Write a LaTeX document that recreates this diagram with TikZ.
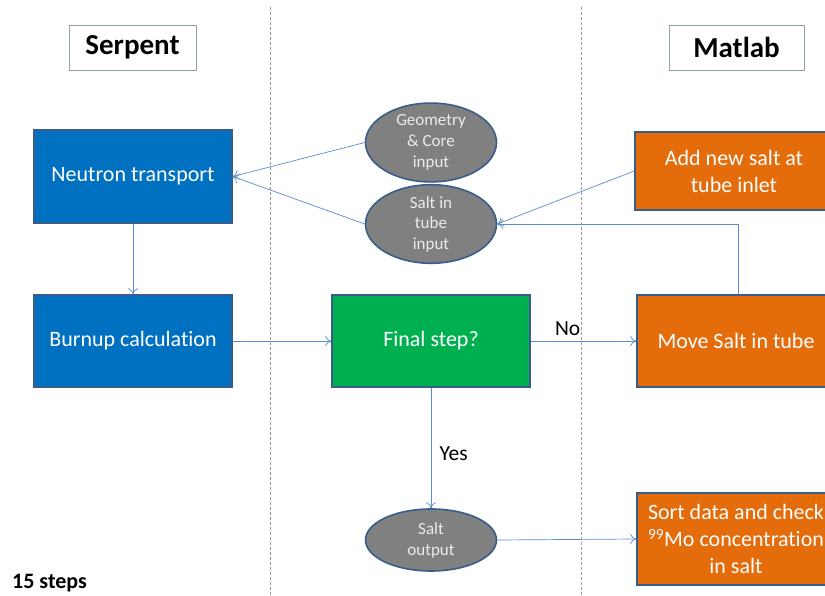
\documentclass[tikz,border=0pt]{standalone}
\usepackage{fontspec}
\setmainfont[Ligatures={NoCommon}]{Carlito}
\usetikzlibrary{arrows.meta,shapes.geometric}
\definecolor{bblue}{HTML}{0070C0}
\definecolor{bgreen}{HTML}{00B050}
\definecolor{borange}{HTML}{E46C0A}
\definecolor{bgrey}{HTML}{808080}
\definecolor{edge}{HTML}{385D8A}
\definecolor{conn}{HTML}{5B8BD0}
\tikzset{
  x=1pt,y=-1pt,
  procbox/.style={draw=edge,line width=1.6pt,minimum width=198pt,minimum height=92pt,text=white,font=\fontsize{22}{27}\selectfont,align=center,inner sep=2pt},
  ioell/.style={ellipse,draw=edge,line width=1.6pt,fill=bgrey,minimum width=131pt,minimum height=68pt,inner sep=0pt,text=white!92!black,font=\fontsize{17}{20.5}\selectfont,align=center},
  headbox/.style={draw=edge!60,line width=0.8pt,font=\bfseries\fontsize{29}{32}\selectfont,inner sep=0pt},
  conline/.style={draw=conn,line width=0.7pt,-{To[length=6pt,width=10pt]}},
  divider/.style={draw=black!40,line width=0.8pt,dash pattern=on 3pt off 2pt},
  lbl/.style={font=\fontsize{21.5}{24}\selectfont}
}
\begin{document}
\begin{tikzpicture}
\useasboundingbox (0,0) rectangle (825,596);
\fill[white] (0,0) rectangle (825,596);
% dividers
\coordinate (d1t) at (270,7); \coordinate (d1b) at (270,596);
\coordinate (d2t) at (581,7); \coordinate (d2b) at (581,596);
\draw[divider] (d1t) -- (d1b);
\draw[divider] (d2t) -- (d2b);
% headers
\node[headbox,minimum width=127pt,minimum height=45pt] (serpent) at (132.5,47.5) {\raisebox{-2pt}{Serpent}};
\node[headbox,minimum width=135pt,minimum height=45pt] (matlab) at (736.5,47.5) {\raisebox{-1pt}{Matlab}};
% process boxes
\node[procbox,fill=bblue,minimum height=93pt] (neutron) at (133,176.5) {Neutron transport};
\node[procbox,fill=bblue] (burnup) at (133,341) {Burnup calculat\kern0pt ion};
\node[procbox,fill=bgreen] (final) at (431,341) {Final step?};
\node[procbox,fill=borange] (move) at (736,341) {Move Salt in tube};
\node[procbox,fill=borange,minimum height=78pt] (addsalt) at (734,171) {Add new salt at\\tube inlet};
\node[procbox,fill=borange,minimum height=92pt] (sort) at (736,539) {Sort data and check\\\textsuperscript{99}Mo concentrat\kern0pt ion\\in salt};
% ellipses
\node[ioell,minimum height=71pt,font=\fontsize{17}{21}\selectfont] (geom) at (431,142.5) {Geometry\\\&~Core\\input};
\node[ioell,minimum height=64pt] (saltin) at (431,224) {Salt in\\tube\\input};
\node[ioell,minimum height=62pt,font=\fontsize{17}{21}\selectfont] (saltout) at (431,540) {Salt\\output};
% connectors
\draw[conline] (geom.west) -- (neutron.east);
\draw[conline] (saltin.west) -- (neutron.east);
\draw[conline] (neutron.south) -- (burnup.north);
\draw[conline] (burnup.east) -- (final.west);
\draw[conline] (final.east) -- node[lbl,above,pos=0.35,yshift=2pt] (nolbl) {No} (move.west);
\draw[conline] (final.south) -- node[lbl,right,pos=0.55,xshift=5pt] (yeslbl) {Yes} (saltout.north);
\draw[conline] (saltout.east) -- (sort.west);
\draw[conline] (addsalt.west) -- (saltin.east);
\draw[conline] ([xshift=2pt]move.north) |- (saltin.east);
% note
\node[anchor=west,font=\bfseries\fontsize{22}{24}\selectfont,inner sep=0pt] (steps) at (12,583) {15 steps};
\end{tikzpicture}
\end{document}
